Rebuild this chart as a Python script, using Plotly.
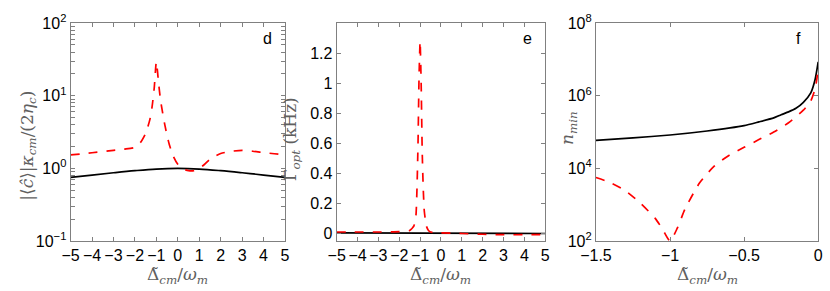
import plotly.graph_objects as go

# Panel d data
d_red_x = [-5, -4, -3, -2.5, -2, -1.75, -1.5, -1.3, -1.2, -1.1, -1.0, -0.9, -0.8, -0.6, -0.4, -0.2, 0, 0.25, 0.5, 0.75, 1.0, 1.25, 1.5, 2.0, 2.5, 3.0, 3.5, 4.0, 4.5, 5]
d_red_y = [1.53, 1.64, 1.77, 1.84, 1.95, 2.26, 3.04, 4.73, 7.0, 12.7, 29.2, 15.4, 8.5, 3.9, 2.15, 1.45, 1.14, 0.98, 0.93, 0.93, 1.0, 1.14, 1.34, 1.6, 1.72, 1.77, 1.72, 1.65, 1.59, 1.53]
d_blk_x = [-5, -4, -3, -2, -1, 0, 1, 2, 3, 4, 5]
d_blk_y = [0.75, 0.81, 0.87, 0.93, 0.98, 1.0, 0.98, 0.93, 0.87, 0.81, 0.75]

# Panel e data
e_red_x = [-5, -4, -3, -2, -1.5, -1.3, -1.2, -1.15, -1.1, -1.05, -1.0, -0.95, -0.9, -0.85, -0.8, -0.7, -0.6, -0.5, 0, 1, 2, 3, 4, 5]
e_red_y = [0.01, 0.01, 0.01, 0.012, 0.02, 0.05, 0.12, 0.3, 0.6, 1.05, 1.28, 1.0, 0.55, 0.3, 0.15, 0.05, 0.02, 0.01, 0.005, 0.0, -0.005, -0.008, -0.008, -0.008]
e_blk_x = [-5, -3, -1, 0, 1, 3, 5]
e_blk_y = [0.004, 0.003, 0.002, 0.001, 0.0, 0.0, 0.0]

# Panel f data
f_blk_x = [-1.5, -1.25, -1.0, -0.75, -0.5, -0.4, -0.3, -0.25, -0.2, -0.15, -0.1, -0.05, -0.02, 0]
f_blk_y = [5.9e4, 6.9e4, 8.3e4, 1.07e5, 1.5e5, 1.9e5, 2.45e5, 3.0e5, 3.6e5, 4.5e5, 6.6e5, 1.2e6, 2.9e6, 8.5e6]
f_red_x = [-1.5, -1.4, -1.3, -1.2, -1.1, -1.05, -1.0, -0.95, -0.9, -0.8, -0.7, -0.6, -0.5, -0.4, -0.3, -0.2, -0.1, -0.05, -0.02, 0]
f_red_y = [5.6e3, 4.0e3, 2.4e3, 1.1e3, 420, 210, 100, 230, 740, 4.0e3, 1.17e4, 2.3e4, 3.8e4, 6.2e4, 1.0e5, 1.8e5, 4.0e5, 7.2e5, 1.6e6, 5.2e6]

# tick labels
lin_ticks = [-5, -4, -3, -2, -1, 0, 1, 2, 3, 4, 5]
lin_ticktext = ["\u22125", "\u22124", "\u22123", "\u22122", "\u22121", "0", "1", "2", "3", "4", "5"]
d_major = [0.1, 1, 10, 100]
d_major_text = ["10<sup>\u22121</sup>", "10<sup>0</sup>", "10<sup>1</sup>", "10<sup>2</sup>"]
d_minor = [0.2, 0.3, 0.4, 0.5, 0.6, 0.7, 0.8, 0.9, 2, 3, 4, 5, 6, 7, 8, 9, 20, 30, 40, 50, 60, 70, 80, 90]
e_ticks = [0, 0.2, 0.4, 0.6, 0.8, 1.0, 1.2]
e_ticktext = ["0", "0.2", "0.4", "0.6", "0.8", "1", "1.2"]
f_xticks = [-1.5, -1, -0.5, 0]
f_xticktext = ["\u22121.5", "\u22121", "\u22120.5", "0"]
f_yticks = [1e2, 1e4, 1e6, 1e8]
f_yticktext = ["10<sup>2</sup>", "10<sup>4</sup>", "10<sup>6</sup>", "10<sup>8</sup>"]

RED = "#ff0000"
AX = "#808080"
tickfont = dict(family="Liberation Sans, Arial, sans-serif", size=16, color="black")
labfont = dict(family="DejaVu Serif, Liberation Serif, serif", size=17, color="#606060")

fig = go.Figure()
dash = dict(color=RED, width=1.7, dash="dash")
solid = dict(color="black", width=1.7)
fig.add_trace(go.Scatter(x=d_blk_x, y=d_blk_y, mode="lines", line=dict(solid, shape="spline"), xaxis="x", yaxis="y", showlegend=False))
fig.add_trace(go.Scatter(x=d_red_x, y=d_red_y, mode="lines", line=dict(dash, shape="spline", smoothing=0.6), xaxis="x", yaxis="y", showlegend=False))
fig.add_trace(go.Scatter(x=e_blk_x, y=e_blk_y, mode="lines", line=solid, xaxis="x2", yaxis="y2", showlegend=False))
fig.add_trace(go.Scatter(x=e_red_x, y=e_red_y, mode="lines", line=dict(dash, shape="spline", smoothing=0.5), xaxis="x2", yaxis="y2", showlegend=False))
fig.add_trace(go.Scatter(x=f_blk_x, y=f_blk_y, mode="lines", line=dict(solid, shape="spline", smoothing=0.6), xaxis="x3", yaxis="y3", showlegend=False))
fig.add_trace(go.Scatter(x=f_red_x, y=f_red_y, mode="lines", line=dict(dash, shape="spline", smoothing=0.6), xaxis="x3", yaxis="y3", showlegend=False))

H, W = 291, 830
ydom = [1 - 247 / H, 1 - 13 / H]
common = dict(showline=True, linecolor=AX, linewidth=1, mirror="allticks", ticks="inside", tickcolor=AX,
              ticklen=4, showgrid=False, zeroline=False, tickfont=tickfont, tickangle=0)

d_tickvals = d_major + d_minor
d_ticktext = d_major_text + [""] * len(d_minor)

fig.update_layout(
    width=W, height=H, margin=dict(l=0, r=0, t=0, b=0),
    paper_bgcolor="white", plot_bgcolor="white",
    xaxis=dict(common, domain=[56 / W, 276 / W], range=[-5, 5], tickvals=lin_ticks, ticktext=lin_ticktext, anchor="y"),
    yaxis=dict(common, domain=ydom, type="log", range=[-1, 2], tickvals=d_tickvals, ticktext=d_ticktext, anchor="x"),
    xaxis2=dict(common, domain=[329 / W, 543 / W], range=[-5, 5], tickvals=lin_ticks, ticktext=lin_ticktext, anchor="y2"),
    yaxis2=dict(common, domain=ydom, range=[-0.05, 1.4], tickvals=e_ticks, ticktext=e_ticktext, anchor="x2"),
    xaxis3=dict(common, domain=[595 / W, 823 / W], range=[-1.5, 0], tickvals=f_xticks, ticktext=f_xticktext, anchor="y3"),
    yaxis3=dict(common, domain=ydom, type="log", range=[2, 8], tickvals=f_yticks, ticktext=f_yticktext, anchor="x3"),
)

xlab = "\u0394\u0303<sub><i>cm</i></sub>/<i>\u03c9</i><sub><i>m</i></sub>"
for xc in [(56 + 276) / 2, (329 + 543) / 2, (595 + 823) / 2]:
    fig.add_annotation(x=xc / W, y=1 - 270 / H, xref="paper", yref="paper", text=xlab, showarrow=False,
                       font=labfont, xanchor="center", yanchor="top")

ylabs = [("|\u27e8<i>\u0109</i>\u27e9|<i>\u03ba</i><sub><i>cm</i></sub>/(2<i>\u03b7</i><sub><i>c</i></sub>)", 12, 145),
         ("\u0393<sub><i>opt</i></sub> (kHz)", 283, 138),
         ("<i>n</i><sub><i>min</i></sub>", 567, 126)]
for t, xp, yp in ylabs:
    fig.add_annotation(x=xp / W, y=1 - yp / H, xref="paper", yref="paper", text=t, showarrow=False,
                       textangle=-90, font=labfont, xanchor="center", yanchor="middle")

for letter, xp in [("d", 258), ("e", 525), ("f", 803)]:
    fig.add_annotation(x=xp / W, y=1 - 29 / H, xref="paper", yref="paper", text=letter, showarrow=False,
                       font=tickfont, xanchor="center", yanchor="middle")

fig.write_html("out.html", config={"displayModeBar": False},
               post_script="document.body.style.margin='0';document.body.style.overflow='hidden';")
